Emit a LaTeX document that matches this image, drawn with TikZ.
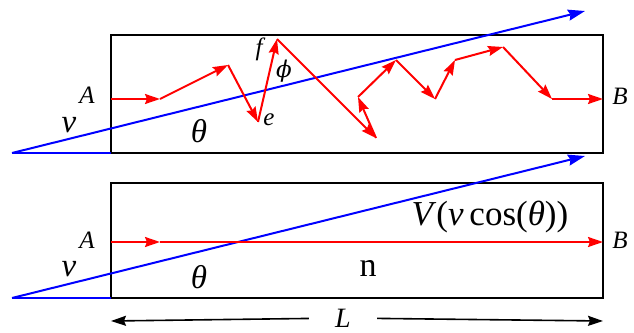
\documentclass[tikz,border=0pt]{standalone}
\usepackage{fontspec}
\setmainfont{Liberation Serif}
\newfontfamily\greekfont{DejaVu Serif}
\usetikzlibrary{arrows.meta, positioning, calc}

\begin{document}
\begin{tikzpicture}[x=1pt, y=-1pt,
    wall/.style={draw=black, line width=1.8pt},
    ray/.style={draw=blue, line width=2pt},
    hop/.style={draw=red, line width=2pt, -{Stealth[length=15pt, width=10pt, inset=2pt]}},
    dim/.style={draw=black, line width=1.6pt, -{Stealth[length=15pt, width=10pt, inset=2pt]}},
    big/.style={font=\fontsize{33}{35}\selectfont\itshape},
    mid/.style={font=\fontsize{25}{27}\selectfont\itshape}]
\useasboundingbox (0,0) rectangle (634,332);
% upper box: zig-zag path
\draw[wall] (111,35) rectangle (603,153);
\coordinate (o1) at (12,153);
\coordinate (c1) at (111,153);
\coordinate (t1) at (585,11);
\draw[ray] (o1) -- (c1);
\draw[ray, -{Stealth[length=17pt, width=11pt, inset=2pt]}] (o1) -- (t1);
\coordinate (p0) at (111,99);
\coordinate (p1) at (160,99);
\coordinate (p2) at (228,65);
\coordinate (p3) at (258,122);
\coordinate (p4) at (277,39);
\coordinate (p5) at (376,138);
\coordinate (p6) at (358,97);
\coordinate (p7) at (396,60);
\coordinate (p8) at (435,99);
\coordinate (p9) at (455,60);
\coordinate (p10) at (503,47);
\coordinate (p11) at (552,99);
\coordinate (p12) at (603,99);
\draw[hop] (p0) -- (p1);
\draw[hop] (p1) -- (p2);
\draw[hop] (p2) -- (p3);
\draw[hop] (p3) -- (p4);
\draw[hop] (p4) -- (p5);
\draw[hop] (p5) -- (p6);
\draw[hop] (p6) -- (p7);
\draw[hop] (p7) -- (p8);
\draw[hop] (p8) -- (p9);
\draw[hop] (p9) -- (p10);
\draw[hop] (p10) -- (p11);
\draw[hop] (p11) -- (p12);
\node[mid] (a1) at (87,95) {A};
\node[mid] (b1) at (620,96) {B};
\node[big] (v1) at (69,125) {v};
\node[big] (th1) at (199,131) {θ};
\node[mid] (f1) at (259,49) {f};
\node[font=\fontsize{23}{25}\greekfont\itshape] (phi1) at (284,71) {ϕ};
\node[mid] (e1) at (269,120) {e};
% lower box: straight path
\draw[wall] (111,183) rectangle (603,298);
\coordinate (o2) at (12,298);
\coordinate (c2) at (111,298);
\coordinate (t2) at (585,156);
\draw[ray] (o2) -- (c2);
\draw[ray, -{Stealth[length=17pt, width=11pt, inset=2pt]}] (o2) -- (t2);
\coordinate (q0) at (111,242);
\coordinate (q1) at (160,242);
\coordinate (q2) at (603,242);
\draw[hop] (q0) -- (q1);
\draw[hop] (q1) -- (q2);
\node[mid] (a2) at (87,240) {A};
\node[mid] (b2) at (620,240) {B};
\node[big] (v2) at (69,269) {v};
\node[big] (th2) at (199,277) {θ};
\node[font=\fontsize{34}{36}\selectfont] (n2) at (368,268) {n};
\node[font=\fontsize{35}{37}\selectfont] (vel) at (490,217) {\textit{V}(\textit{v}\,cos(\textit{θ}))};
% length L
\coordinate (dl) at (111,321);
\coordinate (dr) at (603,321);
\node[font=\fontsize{28}{30}\selectfont\itshape, inner ysep=0pt, minimum width=68pt] (len) at (343,318) {L};
\draw[dim] (len) -- (dl);
\draw[dim] (len) -- (dr);
\end{tikzpicture}
\end{document}
